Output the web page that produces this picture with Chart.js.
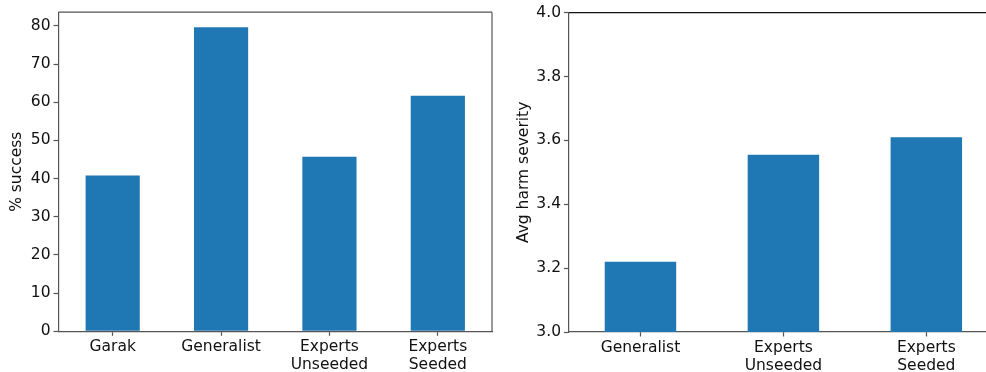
<!DOCTYPE html>
<html>
<head>
<meta charset="utf-8">
<script src="https://cdn.jsdelivr.net/npm/chart.js@4/dist/chart.umd.min.js"></script>
<style>
  html, body { margin: 0; padding: 0; background: #fff; overflow: hidden; width: 986px; height: 372px; }
  .panel { position: absolute; top: 0; height: 372px; }
  #panelSuccess { left: 0; width: 500px; }
  #panelSeverity { left: 500px; width: 512px; }
  canvas { display: block; }
</style>
</head>
<body>
<div class="panel" id="panelSuccess"><canvas id="successChart" width="500" height="372"></canvas></div>
<div class="panel" id="panelSeverity"><canvas id="severityChart" width="512" height="372"></canvas></div>
<script>
// Attack success rate per method
const successCategories = ['Garak', 'Generalist', ['Experts', 'Unseeded'], ['Experts', 'Seeded']];
const successValues = [40.8, 79.6, 45.7, 61.7];
const successTicks = [0, 10, 20, 30, 40, 50, 60, 70, 80];

// Average harm severity per method
const severityCategories = ['Generalist', ['Experts', 'Unseeded'], ['Experts', 'Seeded']];
const severityValues = [3.22, 3.555, 3.61];
const severityTicks = [3.0, 3.2, 3.4, 3.6, 3.8, 4.0];

const BAR_COLOR = '#1f77b4';
const SPINE_GRAY = '#555555';
const TEXT_COLOR = '#111111';
const FONT = { family: "'DejaVu Sans', sans-serif", size: 15.5, lineHeight: 1.18 };

// Draws the remaining spines (top / right) around the plot area
function spinePlugin(topColor, rightColor) {
  return {
    id: 'spines',
    afterDraw(chart) {
      const { ctx, chartArea: a } = chart;
      ctx.save();
      ctx.lineWidth = 1.2;
      ctx.strokeStyle = topColor;
      ctx.beginPath();
      ctx.moveTo(a.left, a.top);
      ctx.lineTo(a.right, a.top);
      ctx.stroke();
      ctx.strokeStyle = rightColor;
      ctx.beginPath();
      ctx.moveTo(a.right, a.top);
      ctx.lineTo(a.right, a.bottom);
      ctx.stroke();
      ctx.restore();
    }
  };
}

function buildBarChart(cfg) {
  return new Chart(document.getElementById(cfg.id), {
    type: 'bar',
    data: {
      labels: cfg.labels,
      datasets: [{
        data: cfg.values,
        backgroundColor: BAR_COLOR,
        borderWidth: 0,
        inflateAmount: 0,
        barPercentage: 0.5,
        categoryPercentage: 1.0
      }]
    },
    options: {
      responsive: false,
      animation: false,
      devicePixelRatio: 1,
      layout: { padding: cfg.padding },
      plugins: { legend: { display: false }, tooltip: { enabled: false } },
      scales: {
        x: {
          type: 'category',
          offset: true,
          z: 1,
          grid: {
            offset: false,
            drawOnChartArea: false,
            drawTicks: true,
            tickLength: 4.5,
            tickColor: SPINE_GRAY,
            tickWidth: 1.2
          },
          border: { display: true, color: SPINE_GRAY, width: 1.2 },
          ticks: {
            font: FONT,
            color: TEXT_COLOR,
            padding: 2,
            maxRotation: 0,
            autoSkip: false
          },
          afterFit(scale) { scale.height = cfg.xHeight; }
        },
        y: {
          type: 'linear',
          min: cfg.yMin,
          max: cfg.yMax,
          z: 1,
          afterBuildTicks(scale) {
            scale.ticks = cfg.ticks.map(v => ({ value: v }));
          },
          grid: {
            drawOnChartArea: false,
            drawTicks: true,
            tickLength: 5,
            tickColor: SPINE_GRAY,
            tickWidth: 1.2
          },
          border: { display: true, color: SPINE_GRAY, width: 1.2 },
          ticks: {
            font: FONT,
            color: TEXT_COLOR,
            padding: 3,
            callback: v => Number(v).toFixed(cfg.decimals)
          },
          title: {
            display: true,
            text: cfg.yTitle,
            font: { family: FONT.family, size: FONT.size, lineHeight: 1.2 },
            color: TEXT_COLOR,
            padding: { top: cfg.titlePad, bottom: 0 }
          },
          afterFit(scale) { scale.width = cfg.yWidth; }
        }
      }
    },
    plugins: [spinePlugin(cfg.topSpine, SPINE_GRAY)]
  });
}

buildBarChart({
  id: 'successChart',
  labels: successCategories,
  values: successValues,
  ticks: successTicks,
  yMin: 0,
  yMax: 83.58,
  decimals: 0,
  yTitle: '% success',
  padding: { left: 0, top: 8.7, right: 8, bottom: 0 },
  xHeight: 40.7,
  yWidth: 58.5,
  titlePad: 7.4,
  topSpine: SPINE_GRAY
});

buildBarChart({
  id: 'severityChart',
  labels: severityCategories,
  values: severityValues,
  ticks: severityTicks,
  yMin: 3.0,
  yMax: 4.0,
  decimals: 1,
  yTitle: 'Avg harm severity',
  padding: { left: 0, top: 12.7, right: 14.2, bottom: 0 },
  xHeight: 40,
  yWidth: 69,
  titlePad: 14.7,
  topSpine: '#111111'
});
</script>
</body>
</html>
